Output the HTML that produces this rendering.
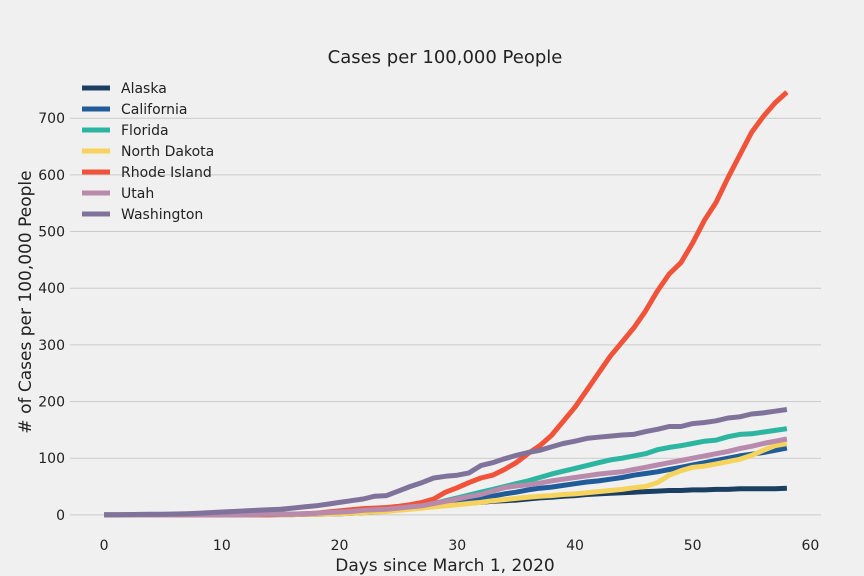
<!DOCTYPE html>
<html><head><meta charset="utf-8"><style>
body{margin:0;background:#f0f0f0;}
svg{display:block;font-family:"DejaVu Sans","Liberation Sans",sans-serif;}
</style></head><body>
<svg id="chart" width="864" height="576">
<rect width="864" height="576" fill="#f0f0f0"/>
<g id="grid"></g>
<g id="series"></g>
<g id="axes"></g>
<text x="445" y="63" text-anchor="middle" font-size="18" fill="#222">Cases per 100,000 People</text>
<text x="445" y="571" text-anchor="middle" font-size="17" fill="#222">Days since March 1, 2020</text>
<text transform="translate(31,302) rotate(-90)" text-anchor="middle" font-size="17" fill="#222"># of Cases per 100,000 People</text>
<g id="legend"></g>
</svg>
<script>
const names=["Alaska","California","Florida","North Dakota","Rhode Island","Utah","Washington"];
const colors=["#1b3f63","#1f5c99","#2cb5a0","#f6d35c","#f0533a","#b88aac","#80739b"];
const xTicks=[0,10,20,30,40,50,60];
const yTicks=[0,100,200,300,400,500,600,700];
const alaska=[0,0,0,0,0,0,0,0,0,0, 0,0,0,0,0,0.5,0.5,1,1,1.5, 2,3,4,5,7,9,11,13,15,17, 19,21,22,24,25,26,28,30,31,33, 34,36,37,38,39,40,41,42,43,43, 44,44,45,45,46,46,46,46,47];
const california=[0,0,0,0,0,0,0,0,0,0, 0,0,0,0,0.5,1,1,1.5,2,2.5, 3,4,5,7,8,10,12,14,17,20, 22,25,28,33,37,40,44,47,49,52, 55,58,60,63,66,70,73,76,80,84, 88,92,96,100,104,107,110,114,118];
const florida=[0,0,0,0,0,0,0,0,0,0, 0,0,0,0,0.5,1,1,1.5,2,2.5, 3,5,7,8,10,12,14,16,20,25, 30,35,40,45,50,55,60,66,72,77, 82,87,92,97,100,104,108,115,119,122, 126,130,132,138,142,143,146,149,152];
const northDakota=[0,0,0,0,0,0,0,0,0,0, 0,0,0,0,0,0.5,0.5,1,1,1.5, 2,3,4,5,6,8,10,12,14,16, 18,20,22,25,27,29,31,33,34,36, 37,39,41,43,45,48,50,57,70,78, 84,86,90,94,98,105,114,122,126];
const rhodeIsland=[0,0,0,0,0,0,0,0,0,0, 0,0,0,0,0,1,1,2,3,5, 7,9,11,12,13,15,18,22,28,40, 48,57,65,70,80,92,108,122,140,165, 190,220,250,280,305,330,360,395,425,445, 480,520,552,595,635,675,703,727,746];
const utah=[0,0,0,0,0,0,0,0,0,0, 0,0,0,0.5,1,1,1.5,2,3,4, 5,6,8,9,10,12,14,16,20,24, 28,32,36,42,48,51,53,56,60,63, 66,69,72,74,76,80,84,88,92,96, 100,104,108,112,117,121,126,130,134];
const washington=[0,0,0.5,0.8,1,1,1.5,2,3,4, 5,6,7,8,9,10,12,14,16,19, 22,25,28,33,34,42,50,57,65,68, 70,74,87,92,99,105,110,114,120,126, 130,135,137,139,141,142,147,151,156,156, 161,163,166,171,173,178,180,183,186];
const seriesData=[alaska,california,florida,northDakota,rhodeIsland,utah,washington];

const NS="http://www.w3.org/2000/svg";
const L=70,R=821,T=71,B=536;
const xMin=-2.9,xMax=60.9,yMin=-37.3,yMax=783.3;
function sx(v){return L+(v-xMin)/(xMax-xMin)*(R-L);}
function sy(v){return B-(v-yMin)/(yMax-yMin)*(B-T);}
function mk(tag,attrs,parent){const e=document.createElementNS(NS,tag);for(const k in attrs)e.setAttribute(k,attrs[k]);parent.appendChild(e);return e;}
const grid=document.getElementById('grid'),axes=document.getElementById('axes');
yTicks.forEach(v=>{
  const ln=mk('line',{x1:L,x2:R,y1:sy(v),y2:sy(v),stroke:'#cbcbcb','stroke-width':1},grid);
  
  
  const t=mk('text',{x:L-5,y:sy(v)+5,'text-anchor':'end','font-size':14,fill:'#222'},axes);
  t.textContent=v;
  
  
});
xTicks.forEach(v=>{
  const t=mk('text',{x:sx(v),y:550,'text-anchor':'middle','font-size':14,fill:'#222'},axes);
  t.textContent=v;
  
  
});
const sg=document.getElementById('series');
seriesData.forEach((d,i)=>{
  const pts=d.map((v,j)=>sx(j).toFixed(1)+','+sy(v).toFixed(1)).join(' ');
  const p=mk('polyline',{points:pts,fill:'none',stroke:colors[i],'stroke-width':5,'stroke-linejoin':'round'},sg);
  
  
});
const lg=document.getElementById('legend');
names.forEach((n,i)=>{
  const y=88+i*21;
  const ln=mk('line',{x1:82,x2:110,y1:y,y2:y,stroke:colors[i],'stroke-width':5},lg);
  
  
  const t=mk('text',{x:121,y:y+5,'font-size':14,fill:'#222'},lg);
  t.textContent=n;
  
  
});
</script>
</body></html>
